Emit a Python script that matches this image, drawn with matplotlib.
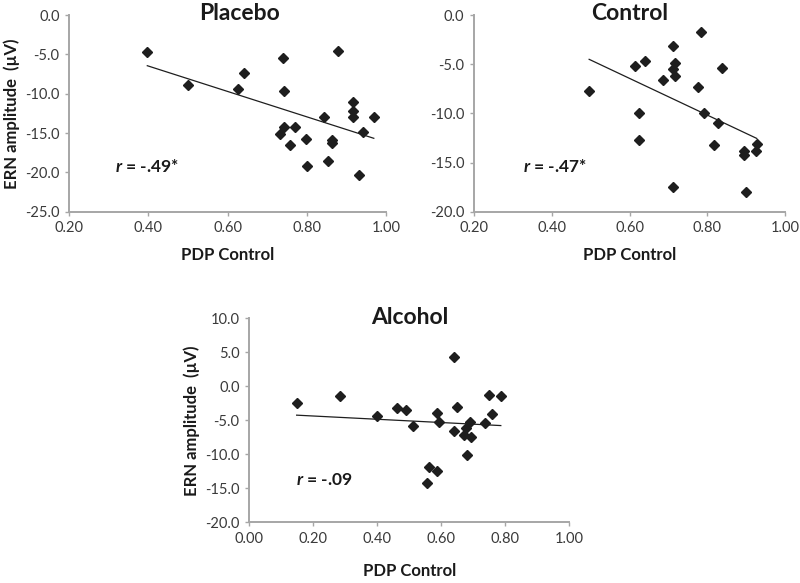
import matplotlib
matplotlib.use('Agg')
import matplotlib.pyplot as plt
import numpy as np

plt.rcParams['font.family'] = ['Lato', 'DejaVu Sans']
plt.rcParams['mathtext.fontset'] = 'custom'
plt.rcParams['mathtext.it'] = 'Lato:italic:bold'
plt.rcParams['mathtext.rm'] = 'Lato:bold'

#Data (PDP control vs ERN amplitude)
placebo_x = [0.397, 0.501, 0.625, 0.642, 0.739, 0.879, 0.743, 0.917, 0.917, 0.917, 0.969, 0.843,
             0.743, 0.770, 0.733, 0.942, 0.797, 0.864, 0.864, 0.757, 0.801, 0.854, 0.931]
placebo_y = [-4.7, -8.9, -9.4, -7.4, -5.4, -4.6, -9.7, -11.1, -12.2, -13.0, -13.0, -13.0,
             -14.2, -14.2, -15.1, -14.9, -15.8, -15.9, -16.3, -16.5, -19.2, -18.6, -20.4]

control_x = [0.496, 0.614, 0.640, 0.623, 0.623, 0.784, 0.711, 0.717, 0.711, 0.717, 0.837,
             0.687, 0.775, 0.790, 0.827, 0.816, 0.927, 0.925, 0.895, 0.895, 0.711, 0.900]
control_y = [-7.7, -5.2, -4.7, -10.0, -12.7, -1.7, -3.1, -4.9, -5.5, -6.2, -5.4,
             -6.6, -7.3, -10.0, -11.0, -13.2, -13.1, -13.8, -13.8, -14.2, -17.5, -18.0]

alcohol_x = [0.148, 0.283, 0.398, 0.463, 0.489, 0.513, 0.588, 0.593, 0.640, 0.650, 0.640, 0.677,
             0.671, 0.692, 0.690, 0.681, 0.738, 0.759, 0.749, 0.786, 0.562, 0.586, 0.554]
alcohol_y = [-2.4, -1.5, -4.3, -3.2, -3.5, -5.8, -4.0, -5.2, 4.3, -3.0, -6.6, -6.2,
             -7.1, -7.4, -5.2, -10.1, -5.4, -4.1, -1.3, -1.5, -11.9, -12.4, -14.2]

titles = ['Placebo', 'Control', 'Alcohol']
r_labels = ['= -.49*', '= -.47*', '= -.09']
xlims = [(0.2, 1.0), (0.2, 1.0), (0.0, 1.0)]
ylims = [(-25, 0), (-20, 0), (-20, 10)]

fig = plt.figure(figsize=(8, 5.83), dpi=100)

#axes rectangles in figure fractions
rects = [[0.0866, 0.637, 0.396, 0.337],
         [0.5925, 0.637, 0.389, 0.337],
         [0.3116, 0.1041, 0.400, 0.350]]
title_x = [0.536, 0.5, 0.5]
r_pos = [(0.316, -19.3), (0.326, -15.4), (0.146, -13.8)]
show_ylabel = [True, False, True]
xlabel_pad = [8.5, 8.5, 12]

datasets = [(placebo_x, placebo_y), (control_x, control_y), (alcohol_x, alcohol_y)]

gray = '#a6a6a6'
for i in range(3):
    ax = fig.add_axes(rects[i])
    x = np.array(datasets[i][0])
    y = np.array(datasets[i][1])
    ax.plot(x, y, linestyle='none', marker='D', markersize=4.6, color='#1e1e1e', clip_on=False, zorder=3)
    #linear trendline over the data range
    k, b = np.polyfit(x, y, 1)
    xx = np.array([x.min(), x.max()])
    ax.plot(xx, k*xx+b, color='#1e1e1e', linewidth=0.9)

    ax.set_xlim(xlims[i])
    ax.set_ylim(ylims[i])
    ax.set_xticks(np.arange(xlims[i][0], xlims[i][1]+0.001, 0.2))
    ax.set_yticks(np.arange(ylims[i][0], ylims[i][1]+0.001, 5))
    ax.xaxis.set_major_formatter(matplotlib.ticker.FormatStrFormatter('%.2f'))
    ax.yaxis.set_major_formatter(matplotlib.ticker.FormatStrFormatter('%.1f'))
    for s in ['top', 'right']:
        ax.spines[s].set_visible(False)
    for s in ['left', 'bottom']:
        ax.spines[s].set_color(gray)
        ax.spines[s].set_linewidth(1.4)
    ax.tick_params(direction='out', length=3, width=1, color=gray, labelsize=10.5, labelcolor='#3a3a3a', pad=4)

    ax.text(title_x[i], 1.006, titles[i], transform=ax.transAxes, ha='center', va='center',
            fontsize=16.5, fontweight='bold', color='#1a1a1a')
    ax.text(r_pos[i][0], r_pos[i][1], r'$\it{r}$' + ' ' + r_labels[i], ha='left', va='center',
            fontsize=12.5, fontweight='bold', color='#1a1a1a')
    ax.set_xlabel('PDP Control', fontsize=12, fontweight='bold', color='#1a1a1a', labelpad=xlabel_pad[i])
    if show_ylabel[i]:
        ax.set_ylabel('ERN amplitude  (\u00b5V)', fontsize=12, fontweight='bold', color='#1a1a1a', labelpad=4)

fig.savefig('out.png', dpi=100)
